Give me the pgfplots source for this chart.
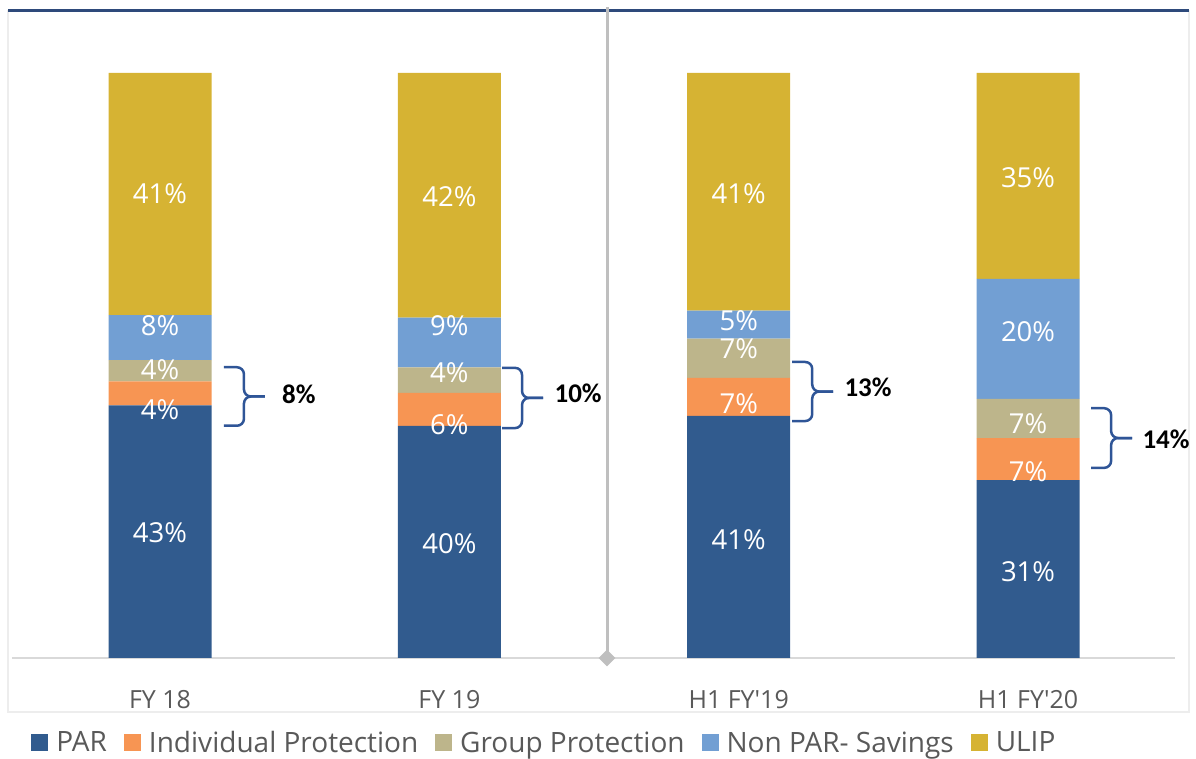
\documentclass[border=0pt]{standalone}
\usepackage{pgfplots}
\pgfplotsset{compat=1.18}
\usepackage{pgfplotstable}
\usepackage{fontspec}
\setmainfont{Open Sans}
\newfontfamily\calibri{Carlito}
\usetikzlibrary{shapes.geometric}

\definecolor{parc}{HTML}{315B8E}
\definecolor{indc}{HTML}{F79553}
\definecolor{grpc}{HTML}{BDB58B}
\definecolor{nonc}{HTML}{729FD3}
\definecolor{ulipc}{HTML}{D6B333}
\definecolor{topc}{HTML}{2E4A7B}
\definecolor{bracec}{HTML}{2F5597}
\definecolor{sepc}{HTML}{BFBFBF}
\definecolor{basec}{HTML}{D9D9D9}
\definecolor{framec}{HTML}{EDEDED}
\definecolor{txtc}{HTML}{595959}

% share of each segment (each bar sums to 100)
\pgfplotstableread{
x par ind grp non ulip
0 43.2 4.1 3.6 7.7 41.4
1 39.7 5.6 4.4 8.5 41.8
2 41.4 6.5 6.7 4.8 40.6
3 30.4 7.2 6.7 20.5 35.2
}\shares

% where the printed segment labels sit
\pgfplotstableread{
x y lab
0 21.4 43
0 42.4 4
0 49.2 4
0 56.8 8
0 79.3 41
1 19.5 40
1 39.8 6
1 48.7 4
1 56.8 9
1 78.8 42
2 20.2 41
2 43.4 7
2 52.8 7
2 57.6 5
2 79.3 41
3 14.7 31
3 31.8 7
3 40.0 7
3 55.7 20
3 82.1 35
}\labels

% protection totals beside the braces
\pgfplotstableread{
x y lab
0.480 45.0 8
1.445 45.3 10
2.447 46.2 13
3.477 37.3 14
}\totals

\pgfplotsset{
  base/.style={
    scale only axis, width=1163pt, height=648pt,
    xmin=-0.5116, xmax=3.508, ymin=0, ymax=110.77,
    at={(12pt,101pt)}, anchor=south west, clip=false,
  },
}
\tikzset{br/.style={draw=bracec, line width=2.5pt, rounded corners=7pt}}

\begin{document}
\begin{tikzpicture}
\useasboundingbox (0,0) rectangle (1196pt,759pt);
\draw[framec, line width=2pt] (8pt,47pt) rectangle (1189pt,748pt);
\draw[topc, line width=3pt] (8pt,748.3pt) -- (1189pt,748.3pt);

\begin{axis}[
  base,
  ybar stacked,
  bar width=0.356,
  axis x line=bottom,
  axis y line=none,
  x axis line style={draw=basec, line width=2pt, -},
  xtick={0,1,2,3},
  xticklabels={FY 18, FY 19, H1 FY\textquotesingle 19, H1 FY\textquotesingle 20},
  xtick style={draw=none},
  xticklabel style={anchor=center, yshift=-39pt, text=txtc,
    font=\fontsize{25}{30}\selectfont},
  legend columns=-1,
  legend style={draw=none, fill=none, at={(0.0140,-0.1305)}, anchor=west,
    font=\fontsize{28}{33}\selectfont, text=txtc,
    /tikz/every even column/.append style={column sep=15pt}},
  legend image code/.code={\fill[#1] (0pt,-8.5pt) rectangle (17pt,8.5pt);
    \path (23pt,0pt);},
]
\addplot[fill=parc, draw=none] table[x=x, y=par] {\shares};
\addlegendentry{PAR}
\addplot[fill=indc, draw=none] table[x=x, y=ind] {\shares};
\addlegendentry{Individual Protection}
\addplot[fill=grpc, draw=none] table[x=x, y=grp] {\shares};
\addlegendentry{Group Protection}
\addplot[fill=nonc, draw=none] table[x=x, y=non] {\shares};
\addlegendentry{Non PAR- Savings}
\addplot[fill=ulipc, draw=none] table[x=x, y=ulip] {\shares};
\addlegendentry{ULIP}
\end{axis}

\begin{axis}[base, hide axis]
\addplot[draw=none, mark=none, point meta=explicit symbolic,
  nodes near coords={\pgfplotspointmeta\%},
  every node near coord/.style={anchor=center, text=white,
    font=\fontsize{27.5}{33}\selectfont}]
  table[x=x, y=y, meta=lab] {\labels};
\addplot[draw=none, mark=none, point meta=explicit symbolic,
  nodes near coords={\pgfplotspointmeta\%},
  every node near coord/.style={anchor=center, text=black,
    font=\calibri\bfseries\fontsize{27}{32}\selectfont}]
  table[x=x, y=y, meta=lab] {\totals};

% braces round individual + group protection
\draw[br] (axis cs:0.221,49.7) -- ([xshift=20pt]axis cs:0.221,49.7) -- ([xshift=20pt]axis cs:0.221,44.7) -- ([xshift=41pt]axis cs:0.221,44.7);
\draw[br] (axis cs:0.221,39.7) -- ([xshift=20pt]axis cs:0.221,39.7) -- ([xshift=20pt]axis cs:0.221,44.7) -- ([xshift=41pt]axis cs:0.221,44.7);
\draw[br] (axis cs:1.182,49.6) -- ([xshift=20pt]axis cs:1.182,49.6) -- ([xshift=20pt]axis cs:1.182,44.45) -- ([xshift=41pt]axis cs:1.182,44.45);
\draw[br] (axis cs:1.182,39.3) -- ([xshift=20pt]axis cs:1.182,39.3) -- ([xshift=20pt]axis cs:1.182,44.45) -- ([xshift=41pt]axis cs:1.182,44.45);
\draw[br] (axis cs:2.185,50.6) -- ([xshift=20pt]axis cs:2.185,50.6) -- ([xshift=20pt]axis cs:2.185,45.55) -- ([xshift=41pt]axis cs:2.185,45.55);
\draw[br] (axis cs:2.185,40.5) -- ([xshift=20pt]axis cs:2.185,40.5) -- ([xshift=20pt]axis cs:2.185,45.55) -- ([xshift=41pt]axis cs:2.185,45.55);
\draw[br] (axis cs:3.218,42.7) -- ([xshift=20pt]axis cs:3.218,42.7) -- ([xshift=20pt]axis cs:3.218,37.6) -- ([xshift=41pt]axis cs:3.218,37.6);
\draw[br] (axis cs:3.218,32.5) -- ([xshift=20pt]axis cs:3.218,32.5) -- ([xshift=20pt]axis cs:3.218,37.6) -- ([xshift=41pt]axis cs:3.218,37.6);

% separator between full years and half years
\draw[sepc, line width=3pt] (axis cs:1.545,0) -- (axis cs:1.545,111.3);
\node[diamond, fill=sepc, inner sep=0pt, minimum size=17pt] at (axis cs:1.545,0) {};
\end{axis}
\end{tikzpicture}
\end{document}
